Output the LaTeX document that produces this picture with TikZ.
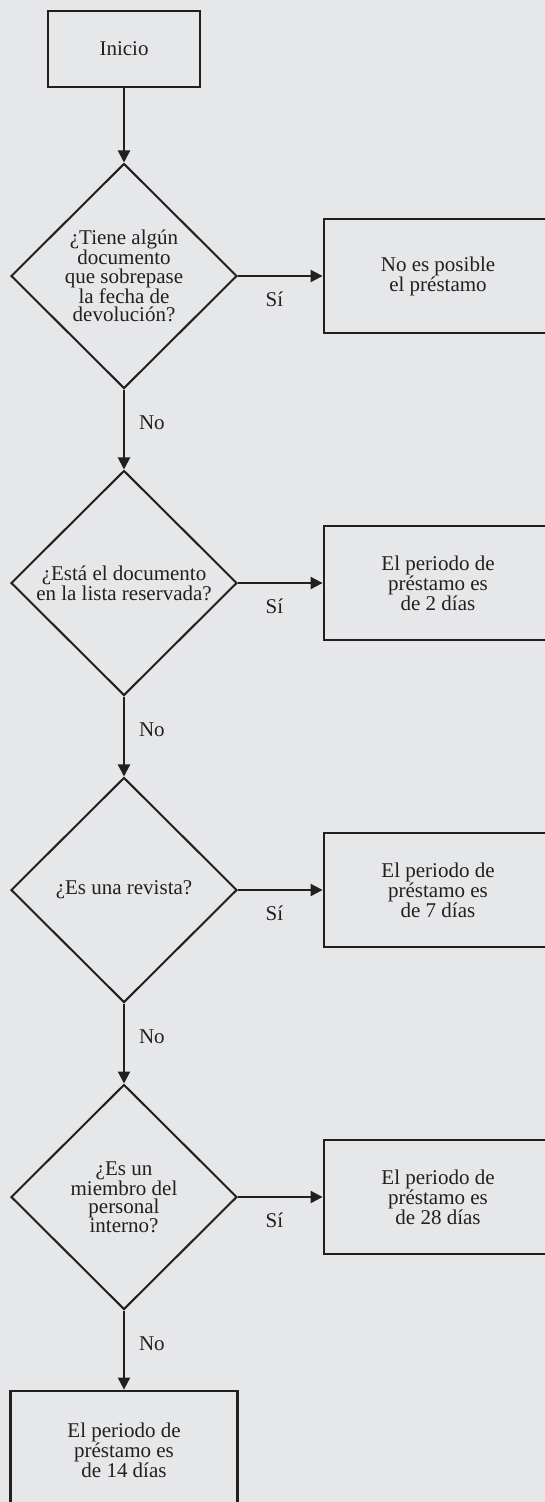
\documentclass[tikz,border=0pt]{standalone}
\usepackage{fontspec}
\setmainfont{Liberation Serif}
\usetikzlibrary{shapes.geometric,arrows.meta,positioning}
\definecolor{fondo}{HTML}{E6E7E9}
\definecolor{tinta}{HTML}{231F20}

\begin{document}
\begin{tikzpicture}[x=1pt, y=1pt, >={Triangle[length=12pt,width=12pt]},
  every node/.style={align=center, text=tinta, font=\fontsize{21}{18.5}\selectfont},
  caja/.style={rectangle, draw=tinta, line width=2.8pt, inner sep=0pt},
  decision/.style={diamond, aspect=1, draw=tinta, line width=2pt, minimum width=226pt, minimum height=225pt, inner sep=0pt},
  flecha/.style={draw=tinta, line width=2pt, ->},
  si/.style={pos=0.43, below=15pt, inner sep=0pt},
  no/.style={pos=0.42, right=14pt, inner sep=0pt}]
\useasboundingbox (0,0) rectangle (545,-1502);
\fill[fondo] (0,0) rectangle (545,-1502);
\clip (0,0) rectangle (545,-1502);

\node[caja, minimum width=152pt, minimum height=76pt] (inicio) at (124,-49) {Inicio};
\node[decision, node distance=227pt, below of=inicio] (vencido) {¿Tiene algún\\documento\\que sobrepase\\la fecha de\\devolución?};
\node[decision, node distance=307pt, below of=vencido] (reservada) {¿Está el documento\\en la lista reservada?};
\node[decision, node distance=307pt, below of=reservada] (revista) {¿Es una revista?};
\node[decision, node distance=307pt, below of=revista] (interno) {¿Es un\\miembro del\\personal\\interno?};
\node[caja, minimum width=227pt, minimum height=118pt, node distance=253pt, below of=interno] (catorce) {El periodo de\\préstamo es\\de 14 días};

\node[caja, minimum width=228pt, minimum height=114pt, node distance=314pt, right of=vencido] (noposible) {No es posible\\el préstamo};
\node[caja, minimum width=228pt, minimum height=114pt, node distance=314pt, right of=reservada] (dos) {El periodo de\\préstamo es\\de 2 días};
\node[caja, minimum width=228pt, minimum height=114pt, node distance=314pt, right of=revista] (siete) {El periodo de\\préstamo es\\de 7 días};
\node[caja, minimum width=228pt, minimum height=114pt, node distance=314pt, right of=interno] (veintiocho) {El periodo de\\préstamo es\\de 28 días};

\draw[flecha] (inicio) -- (vencido);
\draw[flecha] (vencido) -- node[no] {No} (reservada);
\draw[flecha] (reservada) -- node[no] {No} (revista);
\draw[flecha] (revista) -- node[no] {No} (interno);
\draw[flecha] (interno) -- node[no] {No} (catorce);

\draw[flecha] (vencido) -- node[si] {Sí} (noposible);
\draw[flecha] (reservada) -- node[si] {Sí} (dos);
\draw[flecha] (revista) -- node[si] {Sí} (siete);
\draw[flecha] (interno) -- node[si] {Sí} (veintiocho);
\end{tikzpicture}
\end{document}
